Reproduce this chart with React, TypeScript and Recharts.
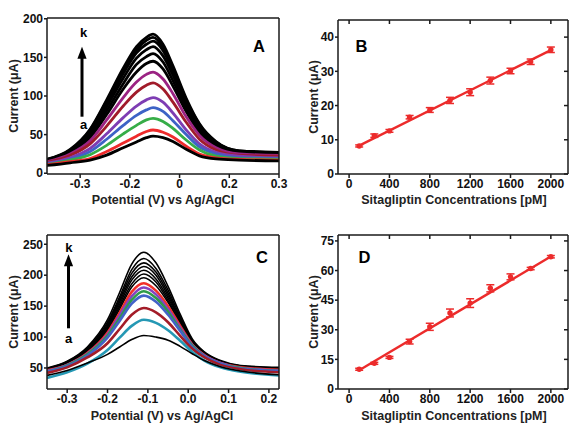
import React from "react";
import { LineChart, Line, XAxis, YAxis, ComposedChart, Scatter, ErrorBar, ReferenceLine } from "recharts";

const FONT = '"Liberation Sans", Arial, Helvetica, sans-serif';
const AXIS = "#1a1a1a";
const RED = "#ec2b2b";

// ---- A: DPV curves, sensor 1 ----
const potentialA = [-0.4, -0.33, -0.27, -0.22, -0.17, -0.13, -0.1, -0.08, -0.05, -0.02, 0.02, 0.06, 0.11, 0.18, 0.3];
const curveA1 = [10, 13.5, 17, 23.5, 33, 40.5, 46, 48, 46, 41, 31, 22.5, 18.5, 17, 16];
const curveA2 = [11, 15, 19, 28, 39, 48, 54, 56, 53, 47, 35, 25, 20, 18, 17];
const curveA3 = [11, 17, 24, 36, 51, 62, 69, 71, 67, 58, 43, 30, 22, 19, 18];
const curveA4 = [12, 18, 28, 44, 62, 75, 82, 85, 80, 68, 50, 34, 25, 20, 19];
const curveA5 = [13, 20, 32, 51, 72, 87, 95, 98, 92, 78, 56, 38, 27, 22, 20];
const curveA6 = [14, 23, 38, 61, 87, 105, 114, 117, 109, 92, 66, 44, 30, 23, 22];
const curveA7 = [15, 25, 42, 69, 98, 118, 128, 131, 122, 103, 73, 49, 33, 25, 23];
const curveA8 = [16, 26, 46, 76, 109, 131, 142, 145, 135, 113, 80, 53, 35, 26, 24];
const curveA9 = [16, 28, 49, 81, 116, 141, 151, 155, 144, 120, 85, 56, 37, 27, 25];
const curveA10 = [17, 29, 52, 86, 123, 149, 160, 164, 152, 127, 89, 59, 38, 28, 26];
const curveA11 = [17, 30, 54, 90, 129, 156, 167, 171, 159, 132, 93, 61, 40, 28, 26];
const curveA12 = [18, 30, 56, 93, 133, 160, 172, 176, 163, 136, 95, 63, 40, 29, 27];
const curveA13 = [18, 31, 57, 95, 136, 164, 176, 180, 167, 139, 97, 64, 41, 29, 27];
const xTicksA = [-0.3, -0.15, 0, 0.15, 0.3];
const xLabelsA = ["-0.3", "-0.2", "0", "0.2", "0.3"];
const yTicksA = [0, 50, 100, 150, 200];

// ---- C: DPV curves, sensor 2 ----
const potentialC = [-0.35, -0.3, -0.25, -0.2, -0.17, -0.14, -0.11, -0.08, -0.05, -0.02, 0.01, 0.04, 0.08, 0.13, 0.225];
const curveC1 = [38, 46, 58, 72, 84, 96, 102.6, 100, 95, 85, 73, 62, 52, 45, 39];
const curveC2 = [34, 43, 57, 79, 99, 118, 128, 123, 111, 94, 76, 62, 51, 44, 38];
const curveC3 = [42, 51, 67, 90, 113, 136, 147, 140, 124, 102, 81, 67, 55, 48, 43];
const curveC4 = [44, 53, 70, 99, 126, 154, 167, 157, 136, 110, 84, 69, 57, 49, 45];
const curveC5 = [44, 54, 72, 102, 130, 160, 174, 163, 141, 112, 86, 69, 57, 50, 45];
const curveC6 = [45, 55, 73, 104, 135, 166, 180, 169, 145, 115, 87, 70, 58, 50, 46];
const curveC7 = [46, 55, 74, 107, 139, 173, 187, 175, 150, 118, 88, 71, 58, 51, 47];
const curveC8 = [46, 56, 76, 111, 145, 181, 196, 183, 156, 121, 90, 72, 59, 51, 47];
const curveC9 = [47, 57, 77, 113, 149, 186, 202, 189, 159, 123, 91, 72, 59, 52, 48];
const curveC10 = [47, 58, 78, 116, 153, 192, 208, 194, 163, 126, 92, 73, 60, 52, 48];
const curveC11 = [48, 58, 80, 118, 157, 197, 214, 200, 167, 128, 93, 74, 60, 53, 49];
const curveC12 = [48, 59, 81, 121, 161, 203, 220, 205, 171, 130, 94, 74, 61, 53, 49];
const curveC13 = [49, 60, 82, 124, 165, 209, 227, 211, 176, 133, 95, 75, 61, 53, 50];
const curveC14 = [50, 61, 84, 128, 172, 218, 237, 220, 182, 137, 97, 76, 62, 54, 51];
const xTicksC = [-0.3, -0.2, -0.1, 0, 0.1, 0.2];
const yTicksC = [50, 100, 150, 200, 250];

// ---- B / D: calibration ----
const concentration = [100, 250, 400, 600, 800, 1000, 1200, 1400, 1600, 1800, 2000];
const currentB = [8.2, 11.2, 12.6, 16.6, 18.7, 21.5, 23.9, 27.3, 30.1, 32.8, 36.3];
const errorB = [0.3, 0.5, 0.4, 0.5, 0.7, 0.9, 1.0, 1.0, 0.8, 0.8, 0.8];
const fitB = [8.3, 36.2];
const currentD = [10, 13, 16, 24, 31.5, 38.5, 43.5, 51, 56.8, 61, 67];
const errorD = [0.5, 0.5, 0.5, 1.2, 1.8, 2, 2.2, 1.8, 1.5, 0.6, 0.6];
const fitD = [9.5, 67.1];
const fitRange = [100, 2000];
const xTicksCal = [0, 400, 800, 1200, 1600, 2000];
const yTicksB = [0, 10, 20, 30, 40];
const yTicksD = [0, 15, 30, 45, 60, 75];

const seriesA = [
  { values: curveA13, color: "#000", width: 2.8 },
  { values: curveA12, color: "#000", width: 2.8 },
  { values: curveA11, color: "#000", width: 2.8 },
  { values: curveA10, color: "#000", width: 2.8 },
  { values: curveA9, color: "#000", width: 2.8 },
  { values: curveA8, color: "#000", width: 2.8 },
  { values: curveA7, color: "#9b2383", width: 2.8 },
  { values: curveA6, color: "#a11b2a", width: 2.8 },
  { values: curveA5, color: "#7e3db3", width: 2.8 },
  { values: curveA4, color: "#3d63c6", width: 2.8 },
  { values: curveA3, color: "#36ad48", width: 2.8 },
  { values: curveA2, color: "#ee2b2b", width: 2.8 },
  { values: curveA1, color: "#000", width: 2.8 },
];

const seriesC = [
  { values: curveC14, color: "#000", width: 1.6 },
  { values: curveC13, color: "#000", width: 1.6 },
  { values: curveC12, color: "#000", width: 1.6 },
  { values: curveC11, color: "#000", width: 1.6 },
  { values: curveC10, color: "#000", width: 1.6 },
  { values: curveC9, color: "#000", width: 1.6 },
  { values: curveC8, color: "#000", width: 1.6 },
  { values: curveC7, color: "#f2302a", width: 2.6 },
  { values: curveC6, color: "#8542c0", width: 2.6 },
  { values: curveC5, color: "#2f9a4a", width: 2.6 },
  { values: curveC4, color: "#4262c8", width: 2.6 },
  { values: curveC3, color: "#a31c28", width: 2.6 },
  { values: curveC2, color: "#2598b4", width: 2.6 },
  { values: curveC1, color: "#000", width: 1.6 },
];

const tickStyle = { fontSize: 12, fontWeight: 700, fill: "#111", fontFamily: FONT };

const CurvePanel = ({ top, marginTop, x, series, xDomain, xTicks, xFormat, yDomain, yTicks }: any) => {
  const rows = x.map((v: number, i: number) => {
    const row: any = { x: v };
    series.forEach((s: any, k: number) => (row["s" + k] = s.values[i]));
    return row;
  });
  return (
    <div style={{ position: "absolute", left: 0, top, width: 290, height: 210 }}>
      <LineChart width={290} height={210} data={rows} margin={{ top: marginTop, right: 11, bottom: 11, left: 12 }}>
        <XAxis dataKey="x" type="number" domain={xDomain} ticks={xTicks} tickFormatter={xFormat} interval={0}
          allowDataOverflow height={25} tickSize={4} tickMargin={1} stroke={AXIS} strokeWidth={1.5} tick={tickStyle} />
        <XAxis xAxisId="t" orientation="top" type="number" domain={xDomain} mirror allowDataOverflow
          tick={false} tickLine={false} stroke={AXIS} strokeWidth={1.5} />
        <YAxis type="number" domain={yDomain} ticks={yTicks} interval={0} allowDataOverflow width={35}
          tickSize={3} tickMargin={1} stroke={AXIS} strokeWidth={1.5} tick={tickStyle} />
        <YAxis yAxisId="r" orientation="right" type="number" domain={yDomain} mirror allowDataOverflow
          tick={false} tickLine={false} stroke={AXIS} strokeWidth={1.5} />
        {series.map((s: any, k: number) => (
          <Line key={k} dataKey={"s" + k} type="monotone" stroke={s.color} strokeWidth={s.width}
            dot={false} isAnimationActive={false} />
        ))}
      </LineChart>
    </div>
  );
};

const CAL_X = [-110, 2170];

const CalPanel = ({ top, current, error, fit, yDomain, yTicks }: any) => {
  const points = concentration.map((c, i) => ({ x: c, y: current[i], err: error[i] }));
  const line = fitRange.map((c, i) => ({ x: c, y: fit[i] }));
  // inner tick length (~4px) expressed in each axis' units
  const dy = ((yDomain[1] - yDomain[0]) * 4) / 154;
  const dx = ((CAL_X[1] - CAL_X[0]) * 4) / 230;
  return (
    <div style={{ position: "absolute", left: 290, top, width: 279, height: 210 }}>
      <ComposedChart width={279} height={210} margin={{ top: 20, right: 1, bottom: 11, left: 13 }}>
        <XAxis dataKey="x" type="number" domain={CAL_X} ticks={xTicksCal} interval={0}
          allowDataOverflow height={25} tickSize={4} tickMargin={1} stroke={AXIS} strokeWidth={1.5} tick={tickStyle} />
        <XAxis xAxisId="t" orientation="top" type="number" domain={CAL_X} mirror allowDataOverflow
          tick={false} tickLine={false} stroke={AXIS} strokeWidth={1.5} />
        <YAxis dataKey="y" type="number" domain={yDomain} ticks={yTicks} interval={0} allowDataOverflow width={35}
          tickSize={3} tickMargin={1} stroke={AXIS} strokeWidth={1.5} tick={tickStyle} />
        <YAxis yAxisId="r" orientation="right" type="number" domain={yDomain} mirror allowDataOverflow
          tick={false} tickLine={false} stroke={AXIS} strokeWidth={1.5} />
        {xTicksCal.map((t) => (
          <ReferenceLine key={"tx" + t} segment={[{ x: t, y: yDomain[1] }, { x: t, y: yDomain[1] - dy }]}
            stroke={AXIS} strokeWidth={1.5} />
        ))}
        {yTicks.map((t: number) => (
          <ReferenceLine key={"ty" + t} segment={[{ x: CAL_X[1], y: t }, { x: CAL_X[1] - dx, y: t }]}
            stroke={AXIS} strokeWidth={1.5} />
        ))}
        <Line data={line} dataKey="y" type="linear" stroke={RED} strokeWidth={2.4} dot={false} isAnimationActive={false} />
        <Scatter data={points} dataKey="y" fill={RED} isAnimationActive={false}
          shape={(p: any) => <circle cx={p.cx} cy={p.cy} r={2.7} fill={RED} />}>
          <ErrorBar dataKey="err" direction="y" width={4} stroke={RED} strokeWidth={1.5} />
        </Scatter>
      </ComposedChart>
    </div>
  );
};

const Arrow = ({ x, y1, y2 }: any) => (
  <g>
    <line x1={x} y1={y2} x2={x} y2={y1 + 10} stroke="#000" strokeWidth={3} />
    <polygon points={`${x},${y1} ${x - 4.6},${y1 + 12} ${x + 4.6},${y1 + 12}`} fill="#000" />
  </g>
);

const title = { fontFamily: FONT, fontWeight: 700, fontSize: 12.5, fill: "#222" };
const letter = { fontFamily: FONT, fontWeight: 700, fontSize: 16.5, fill: "#000" };
const mark = { fontFamily: FONT, fontWeight: 700, fontSize: 13, fill: "#000" };

export default function App() {
  const fmtA = (v: number) => xLabelsA[xTicksA.indexOf(v)] ?? "";
  const fmtC = (v: number) => v.toFixed(1);
  return (
    <div style={{ position: "absolute", left: 0, top: 0, width: 569, height: 425, background: "#fff", overflow: "hidden" }}>
      <CurvePanel top={0} marginTop={18} x={potentialA} series={seriesA} xDomain={[-0.4, 0.3]} xTicks={xTicksA}
        xFormat={fmtA} yDomain={[-1, 201]} yTicks={yTicksA} />
      <CalPanel top={0} current={currentB} error={errorB} fit={fitB} yDomain={[0, 45]} yTicks={yTicksB} />
      <CurvePanel top={215} marginTop={20} x={potentialC} series={seriesC} xDomain={[-0.35, 0.225]} xTicks={xTicksC}
        xFormat={fmtC} yDomain={[16, 265]} yTicks={yTicksC} />
      <CalPanel top={215} current={currentD} error={errorD} fit={fitD} yDomain={[0, 78]} yTicks={yTicksD} />
      <svg width={569} height={425} style={{ position: "absolute", left: 0, top: 0, pointerEvents: "none" }}>
        <text {...title} x={163} y={204} textAnchor="middle">Potential (V) vs Ag/AgCl</text>
        <text {...title} x={162} y={419.5} textAnchor="middle">Potential (V) vs Ag/AgCl</text>
        <text {...title} x={454} y={204} textAnchor="middle">Sitagliptin Concentrations [pM]</text>
        <text {...title} x={454} y={419.5} textAnchor="middle">Sitagliptin Concentrations [pM]</text>
        <text {...title} x={17.5} y={96} textAnchor="middle" transform="rotate(-90 17.5 96)">Current (μA)</text>
        <text {...title} x={17.5} y={312} textAnchor="middle" transform="rotate(-90 17.5 312)">Current (μA)</text>
        <text {...title} x={317.5} y={97} textAnchor="middle" transform="rotate(-90 317.5 97)">Current (μA)</text>
        <text {...title} x={317.5} y={312} textAnchor="middle" transform="rotate(-90 317.5 312)">Current (μA)</text>
        <text {...letter} x={259} y={51.7} textAnchor="middle">A</text>
        <text {...letter} x={361.5} y={51.7} textAnchor="middle">B</text>
        <text {...letter} x={262} y={263.3} textAnchor="middle">C</text>
        <text {...letter} x={364.5} y={263} textAnchor="middle">D</text>
        <text {...mark} x={83.5} y={36.5} textAnchor="middle">k</text>
        <text {...mark} x={83.5} y={128.7} textAnchor="middle">a</text>
        <Arrow x={82} y1={46.7} y2={116.7} />
        <text {...mark} x={68.8} y={251.7} textAnchor="middle">k</text>
        <text {...mark} x={68.5} y={343.3} textAnchor="middle">a</text>
        <Arrow x={68.5} y1={254.3} y2={328.3} />
      </svg>
    </div>
  );
}
